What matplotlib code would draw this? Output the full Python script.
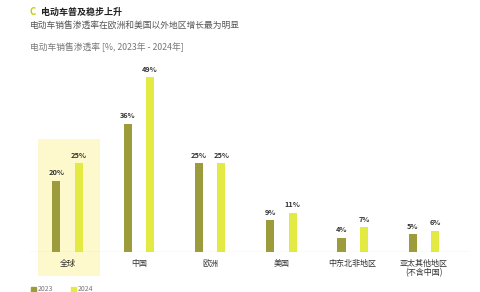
import matplotlib.pyplot as plt
from matplotlib.patches import Rectangle

plt.rcParams['font.family'] = ['Noto Sans CJK SC', 'DejaVu Sans']

regions = ['全球', '中国', '欧洲', '美国', '中东北非地区', '亚太其他地区\n(不含中国)']
y2023 = [20, 36, 25, 9, 4, 5]
y2024 = [25, 49, 25, 11, 7, 6]

c2023 = '#9c9c3c'
c2024 = '#e4ea44'

fig = plt.figure(figsize=(4.8, 2.92), dpi=100)
fig.patch.set_facecolor('white')

# axes placed so baseline sits at ~252px from top
ax = fig.add_axes([30 / 480, 40 / 292, 440 / 480, 214 / 292])
ax.set_xlim(-0.526, 5.645)
ax.set_ylim(0, 60)
ax.axis('off')

x = list(range(len(regions)))
off = 0.157
w = 0.115

# highlight box behind global
ax.add_patch(Rectangle((-0.414, -6.7), 0.87, 38.4, facecolor='#fdf9cc',
                       edgecolor='none', clip_on=False, zorder=0))

ax.bar([i - off for i in x], y2023, width=w, color=c2023, zorder=2)
ax.bar([i + off for i in x], y2024, width=w, color=c2024, zorder=2)
ax.axhline(0, color='#aaaaaa', lw=0.8, zorder=3)

for i in x:
    ax.text(i - off, y2023[i] + 1.2, f'{y2023[i]}%', ha='center', va='bottom',
            fontsize=5.3, fontweight='bold', color='#333333')
    ax.text(i + off, y2024[i] + 1.2, f'{y2024[i]}%', ha='center', va='bottom',
            fontsize=5.3, fontweight='bold', color='#333333')
    ax.text(i, -2.0, regions[i], ha='center', va='top', fontsize=5.8,
            color='#333333', linespacing=1.0, clip_on=False)

# titles
fig.text(30 / 480, 1 - 12 / 292, 'C', fontsize=6.8, fontweight='bold',
         color='#c4d000', va='center')
fig.text(41 / 480, 1 - 12 / 292, '电动车普及稳步上升', fontsize=6.5,
         fontweight='bold', color='#222222', va='center')
fig.text(30 / 480, 1 - 25 / 292, '电动车销售渗透率在欧洲和美国以外地区增长最为明显',
         fontsize=6.3, color='#555555', va='center')
fig.text(30 / 480, 1 - 47 / 292, '电动车销售渗透率 [%, 2023年 - 2024年]',
         fontsize=6.3, color='#777777', va='center')

# legend
fig.patches.append(Rectangle((31 / 480, 1 - 292 / 292), 5 / 480, 5 / 292,
                             transform=fig.transFigure, color=c2023))
fig.text(38 / 480, 1 - 289 / 292, '2023', fontsize=5, color='#777777', va='center')
fig.patches.append(Rectangle((71 / 480, 1 - 292 / 292), 5 / 480, 5 / 292,
                             transform=fig.transFigure, color=c2024))
fig.text(78 / 480, 1 - 289 / 292, '2024', fontsize=5, color='#777777', va='center')

fig.savefig('out.png', dpi=100)
